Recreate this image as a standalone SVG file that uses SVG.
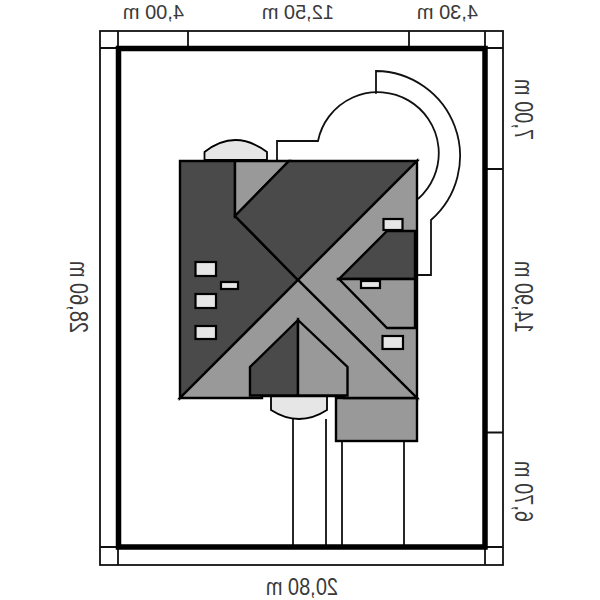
<svg xmlns="http://www.w3.org/2000/svg" width="600" height="600" viewBox="0 0 600 600">
<style>
.thin{fill:none;stroke:#111;stroke-width:1.8}
.roof{stroke:#000;stroke-width:2.4;stroke-linejoin:miter}
.d{fill:#4a4a4a}
.l{fill:#999}
.g{fill:#e6e6e6;stroke:#000;stroke-width:1.8}
.sk{fill:#e6e6e6;stroke:#000;stroke-width:2.2}
.t{font-family:"Liberation Sans",Arial,sans-serif;font-size:20px;fill:#3a3a3a}
</style>
<rect width="600" height="600" fill="#fff"/>
<g id="plot">
<rect class="thin" x="100" y="31" width="403" height="534"/>
<path class="thin" d="M118 31V48M188 31V48M409 31V48M485 31V48M100 48H118M485 48H503M485 169H503M485 432.500H503M100 547H118M485 547H503M118 547V565M485 547V565"/>
</g>
<g id="paths">
<path class="thin" d="M293 419V547M326 419V547M342 441V547M404 441V547"/>
</g>
<g id="terrace">
<path d="M277 160V141H318A61 61 0 0 1 376 94V71A85 85 0 0 1 431 221V275H417V160Z" fill="#fff" stroke="none"/>
<path class="thin" d="M277 160V141H318A61 61 0 1 1 418 199M376 94V71A85 85 0 0 1 431 220V275H417"/>
</g>
<g id="dome-top">
<path class="g" d="M204.500 160V152Q235 128 267 152V160Z"/>
</g>
<g id="dome-bottom">
<path class="g" d="M271 396V410Q299 428 327 410V396Z"/>
</g>
<g id="garage">
<rect class="roof l" x="336" y="398" width="81" height="43"/>
</g>
<g id="roof">
<polygon class="roof d" points="180,161 235,161 235,216 298,280 180,398"/>
<polygon class="roof l" points="235,161 289,161 235,216"/>
<polygon class="roof d" points="289,161 417,161 298,280 235,216"/>
<polygon class="roof l" points="417,161 417,398 298,280"/>
<polygon class="roof l" points="298,280 417,398 344,398 344,396 262,396 262,398 180,398"/>
<polygon class="roof d" points="298,320 250,367 250,395.500 298,395.500"/>
<polygon class="roof l" points="298,320 347.500,367 347.500,395.500 298,395.500"/>
<polygon class="roof d" points="387,231 415,231 415,279 339,279"/>
<polygon class="roof l" points="339,279 415,279 415,328 387,328"/>
</g>
<g id="skylights">
<rect class="sk" x="383.500" y="219" width="19" height="11"/>
<rect class="sk" x="221" y="282" width="17" height="7"/>
<rect class="sk" x="361" y="281" width="19" height="7"/>
<rect class="sk" x="195.500" y="262" width="20.500" height="14"/>
<rect class="sk" x="195.500" y="294" width="20.500" height="14"/>
<rect class="sk" x="195.500" y="326" width="20.500" height="13"/>
<rect class="sk" x="382.500" y="336" width="20.500" height="13"/>
</g>
<g id="boundary">
<rect x="118.500" y="48.500" width="366.500" height="498.500" fill="none" stroke="#000" stroke-width="5.500"/>
</g>
<g id="labels">
<text class="t" transform="matrix(-1 0 0 1.02 184 18.800)">4,00 m</text>
<text class="t" transform="matrix(-1 0 0 1.02 334 18.800)">12,50 m</text>
<text class="t" transform="matrix(-1 0 0 1.02 478 18.800)">4,30 m</text>
<text class="t" transform="matrix(-1 0 0 1.2 338 595)">20,80 m</text>
<text class="t" transform="matrix(0 -1 -1.25 0 70 333)">28,60 m</text>
<text class="t" transform="matrix(0 -1 -1.25 0 515 140)">7,00 m</text>
<text class="t" transform="matrix(0 -1 -1.25 0 515 333)">14,90 m</text>
<text class="t" transform="matrix(0 -1 -1.25 0 515 522)">6,70 m</text>
</g>
</svg>
